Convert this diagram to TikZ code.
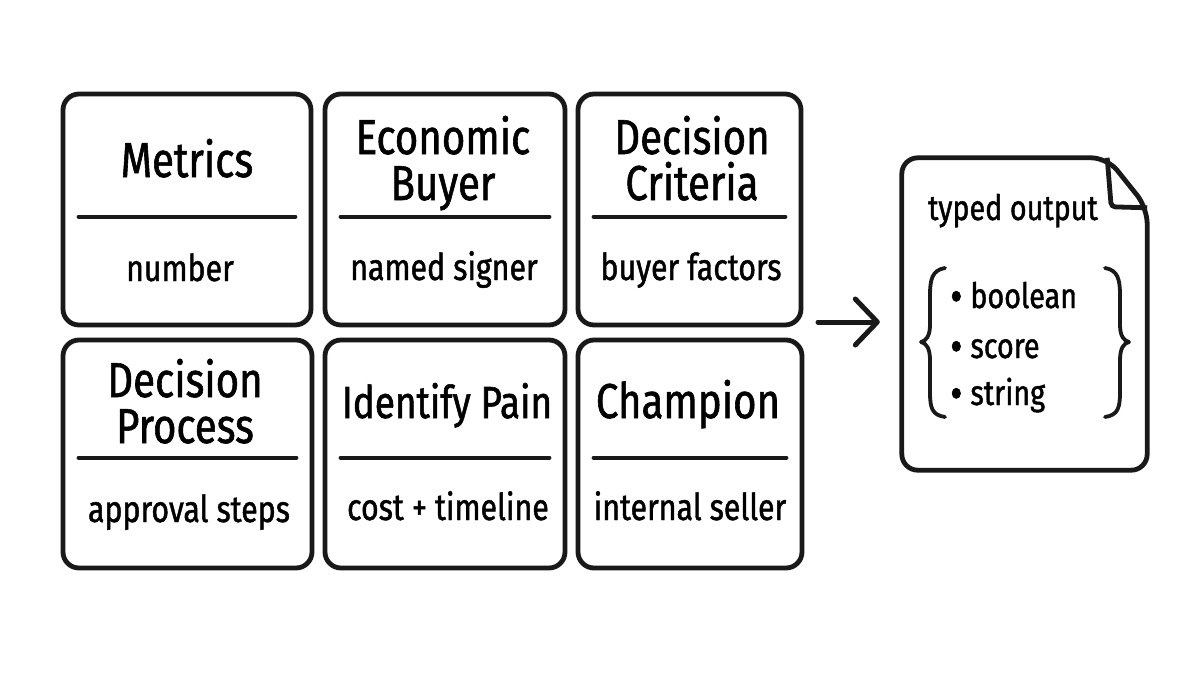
\documentclass[tikz,border=0pt]{standalone}
\usepackage{fontspec}
\newfontfamily\handfont{Fira Sans}[FakeStretch=0.82,FakeBold=1.2]
\usepackage{tikz}
\usetikzlibrary{arrows.meta,calc,positioning}
\tikzset{
  card/.style={draw=black!90,line width=4.8pt,rounded corners=16pt,fill=white},
  ttl/.style={font=\handfont\fontsize{49}{46}\selectfont,align=center,inner sep=0pt},
  sub/.style={font=\handfont\fontsize{37}{40}\selectfont,inner sep=0pt},
  doctxt/.style={font=\handfont\fontsize{35}{36}\selectfont,inner sep=0pt},
  rule/.style={line width=4pt,line cap=round,black!90},
  brace/.style={line width=3.8pt,line cap=round,line join=round,black!90}
}
\newcommand{\bul}{\raisebox{-4pt}{\fontsize{46}{46}\selectfont•}\hspace{8pt}}
\begin{document}
\begin{tikzpicture}[x=1pt,y=-1pt]
\useasboundingbox[fill=white] (0,0) rectangle (1200,675);
% grid of six cards
\node[card,minimum width=248,minimum height=231] (metrics) at (187,209.5) {};
\node[card,minimum width=240,minimum height=231] (econ) at (445,209.5) {};
\node[card,minimum width=223,minimum height=231] (crit) at (689.5,209.5) {};
\node[card,minimum width=249,minimum height=228] (proc) at (187.5,454) {};
\node[card,minimum width=240,minimum height=228] (pain) at (445,454) {};
\node[card,minimum width=224,minimum height=228] (champ) at (690,454) {};
\foreach \c in {metrics,econ,crit}
  \draw[rule] ($(\c.north west)+(18,125)$) -- ($(\c.north east)+(-18,125)$);
\foreach \c in {proc,pain,champ}
  \draw[rule] ($(\c.north west)+(18,120)$) -- ($(\c.north east)+(-18,120)$);
% titles (base = last line)
\node[ttl,anchor=base] (metricsT) at (187,177) {Metrics};
\node[ttl,anchor=base] (econT) at (443,200) {Economic\\Buyer};
\node[ttl,anchor=base] (critT) at (692,200) {Decision\\Criteria};
\node[ttl,anchor=base] (procT) at (185,443) {Decision\\Process};
\node[ttl,anchor=base,font=\handfont\fontsize{45}{46}\selectfont] (painT) at (447,418) {Identify Pain};
\node[ttl,anchor=base] (champT) at (688,418) {Champion};
% subtitles
\node[sub,anchor=base] (metricsS) at (180,281) {number};
\node[sub,anchor=base] (econS) at (444,280) {named signer};
\node[sub,anchor=base] (critS) at (691,280) {buyer factors};
\node[sub,anchor=base] (procS) at (189,522) {approval steps};
\node[sub,anchor=base] (painS) at (448,520) {cost + timeline};
\node[sub,anchor=base] (champS) at (690,520) {internal seller};
% typed output document
\node[minimum width=245,minimum height=312,inner sep=0pt] (doc) at (1024.5,314) {};
\draw[card] (doc.south west) -- (doc.north west) -- ($(doc.north east)+(-40,0)$)
  -- ($(doc.north east)+(0,50)$) -- (doc.south east) -- cycle;
\draw[card,fill=none,rounded corners=4pt] ($(doc.north east)+(-40,0)$) -- ($(doc.north east)+(-36,49)$)
  -- ($(doc.north east)+(0,50)$);
\node[doctxt,anchor=base] (docT) at (1013,220) {typed output};
\node[doctxt,anchor=base west] (itemA) at (950,308) {\bul boolean};
\node[doctxt,anchor=base west] (itemB) at (950,358) {\bul score};
\node[doctxt,anchor=base west] (itemC) at (950,405) {\bul string};
\foreach \s in {1,-1}
  \draw[brace,xshift=1025pt,xscale=\s] (-80,268) .. controls (-93,270) and (-95,280) .. (-95,295)
    -- (-95,325) .. controls (-95,336) and (-99,341) .. (-104,342)
    .. controls (-99,343) and (-95,348) .. (-95,360) -- (-95,392)
    .. controls (-95,408) and (-93,415) .. (-80,417);
% arrow to document
\coordinate (arrowstart) at (818,322);
\draw[line width=5pt,line cap=round,black!90,
  -{Straight Barb[length=22pt,width=46pt,line cap=round,line join=round]}]
  (arrowstart) -- (arrowstart -| doc.west) [shorten >=22pt];
\end{tikzpicture}
\end{document}
